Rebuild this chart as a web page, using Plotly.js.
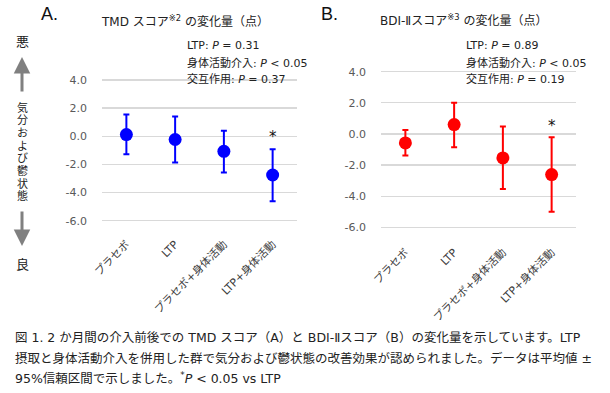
<!DOCTYPE html>
<html>
<head>
<meta charset="utf-8">
<script src="https://cdn.plot.ly/plotly-3.0.1.min.js"></script>
<style>
html,body{margin:0;padding:0;background:#fff;}
#chart{width:610px;height:393px;}
</style>
</head>
<body>
<div id="chart"></div>
<script>
// ---- data ----
const categories = ["プラセボ", "LTP", "プラセボ+身体活動", "LTP+身体活動"];
const tmdMean  = [0.12, -0.23, -1.07, -2.75];
const tmdLower = [-1.28, -1.87, -2.58, -4.62];
const tmdUpper = [1.54, 1.40, 0.40, -0.92];
const bdiMean  = [-0.58, 0.60, -1.54, -2.61];
const bdiLower = [-1.39, -0.86, -3.53, -5.00];
const bdiUpper = [0.26, 2.00, 0.47, -0.22];
const yTickVals = [-6, -4, -2, 0, 2, 4];
const yTickText = ["-6.0", "-4.0", "-2.0", "0.0", "2.0", "4.0"];
const titleA = "TMD スコア<sup>※2</sup> の変化量（点）";
const titleB = "BDI-Ⅱスコア<sup>※3</sup> の変化量（点）";
const statsA = ["LTP: <i>P</i> = 0.31", "身体活動介入: <i>P</i> &lt; 0.05", "交互作用: <i>P</i> = 0.37"];
const statsB = ["LTP: <i>P</i> = 0.89", "身体活動介入: <i>P</i> &lt; 0.05", "交互作用: <i>P</i> = 0.19"];
const sigCategory = "LTP+身体活動";
const sigYA = 0.19, sigYB = 0.71;
const sideTop = "悪", sideBottom = "良";
const sideLabel = ["気","分","お","よ","び","鬱","状","態"];
const caption = [
  "図 1. 2 か月間の介入前後での TMD スコア（A）と BDI-Ⅱスコア（B）の変化量を示しています。LTP",
  "摂取と身体活動介入を併用した群で気分および鬱状態の改善効果が認められました。データは平均値 ±",
  "95%信頼区間で示しました。<sup>*</sup><i>P</i> &lt; 0.05 vs LTP"
];

// ---- helpers ----
const W = 610, H = 393;
const px = x => x / W;
const py = y => 1 - y / H;
const FONT = "DejaVu Sans, Noto Sans CJK JP, sans-serif";

function trace(mean, lo, hi, color, xa, ya) {
  return {
    type: "scatter", mode: "markers",
    x: categories, y: mean, xaxis: xa, yaxis: ya,
    marker: {color: color, size: 13},
    error_y: {
      type: "data", symmetric: false,
      array: hi.map((v, i) => v - mean[i]),
      arrayminus: mean.map((v, i) => v - lo[i]),
      color: color, thickness: 2, width: 3
    },
    hoverinfo: "skip", showlegend: false
  };
}

const yAxisBase = {
  range: [-7, 5], tickvals: yTickVals, ticktext: yTickText,
  showgrid: true, gridcolor: "#d9d9d9", gridwidth: 1.3,
  zeroline: false, showline: false, ticks: "",
  ticklabelstandoff: 14,
  tickfont: {family: FONT, size: 11, color: "#595959"}
};
const xAxisBase = {
  type: "category", range: [-0.5, 3.5], showgrid: false, zeroline: false,
  showline: false, ticks: "", tickangle: -45,
  tickfont: {family: FONT, size: 11, color: "#404040"}
};

const annotations = [];
function txt(x, y, text, size, opts) {
  annotations.push(Object.assign({
    xref: "paper", yref: "paper", x: px(x), y: py(y), text: text,
    showarrow: false, xanchor: "center", yanchor: "middle",
    font: {family: FONT, size: size, color: "#222"}
  }, opts || {}));
}
txt(49, 14, "A.", 18, {font: {family: "Liberation Sans, Arial", size: 18, color: "#111"}});
txt(329, 14, "B.", 18, {font: {family: "Liberation Sans, Arial", size: 18, color: "#111"}});
txt(185, 21, titleA, 12);
txt(463, 20, titleB, 12);
[45.7, 62.7, 79.3].forEach((y, i) => {
  txt(185, y, statsA[i], 11, {xanchor: "left"});
  txt(464, y, statsB[i], 11, {xanchor: "left"});
});
txt(22, 42, sideTop, 13);
txt(22, 264, sideBottom, 13);
sideLabel.forEach((c, i) => txt(22, 108 + i * 12.7, c, 11));
caption.forEach((c, i) => txt(13, 337.7 + i * 20.3, c, 12.5, {xanchor: "left"}));
// significance stars
annotations.push({xref: "x", yref: "y", x: sigCategory, y: sigYA, text: "*", showarrow: false,
  yanchor: "middle", yshift: -3, font: {family: FONT, size: 15, color: "#111"}});
annotations.push({xref: "x2", yref: "y2", x: sigCategory, y: sigYB, text: "*", showarrow: false,
  yanchor: "middle", yshift: -3, font: {family: FONT, size: 15, color: "#111"}});
// side arrows
annotations.push({xref: "paper", yref: "paper", x: px(22), y: py(57), ax: 0, ay: 36, text: "",
  showarrow: true, arrowhead: 2, arrowsize: 1.1, arrowwidth: 3, arrowcolor: "#808080"});
annotations.push({xref: "paper", yref: "paper", x: px(22), y: py(246), ax: 0, ay: -36, text: "",
  showarrow: true, arrowhead: 2, arrowsize: 1.1, arrowwidth: 3, arrowcolor: "#808080"});

const layout = {
  width: W, height: H, margin: {l: 0, r: 0, t: 0, b: 0},
  paper_bgcolor: "#fff", plot_bgcolor: "#fff",
  xaxis: Object.assign({}, xAxisBase, {domain: [px(102), px(297)], anchor: "y"}),
  yaxis: Object.assign({}, yAxisBase, {domain: [py(234.8), py(65.9)], anchor: "x"}),
  xaxis2: Object.assign({}, xAxisBase, {domain: [px(381), px(576)], anchor: "y2"}),
  yaxis2: Object.assign({}, yAxisBase, {domain: [py(242.9), py(56.1)], anchor: "x2"}),
  annotations: annotations,
  font: {family: FONT}
};

Plotly.newPlot("chart", [
  trace(tmdMean, tmdLower, tmdUpper, "#0000ff", "x", "y"),
  trace(bdiMean, bdiLower, bdiUpper, "#ff0000", "x2", "y2")
], layout, {staticPlot: true, displayModeBar: false});
</script>
</body>
</html>
